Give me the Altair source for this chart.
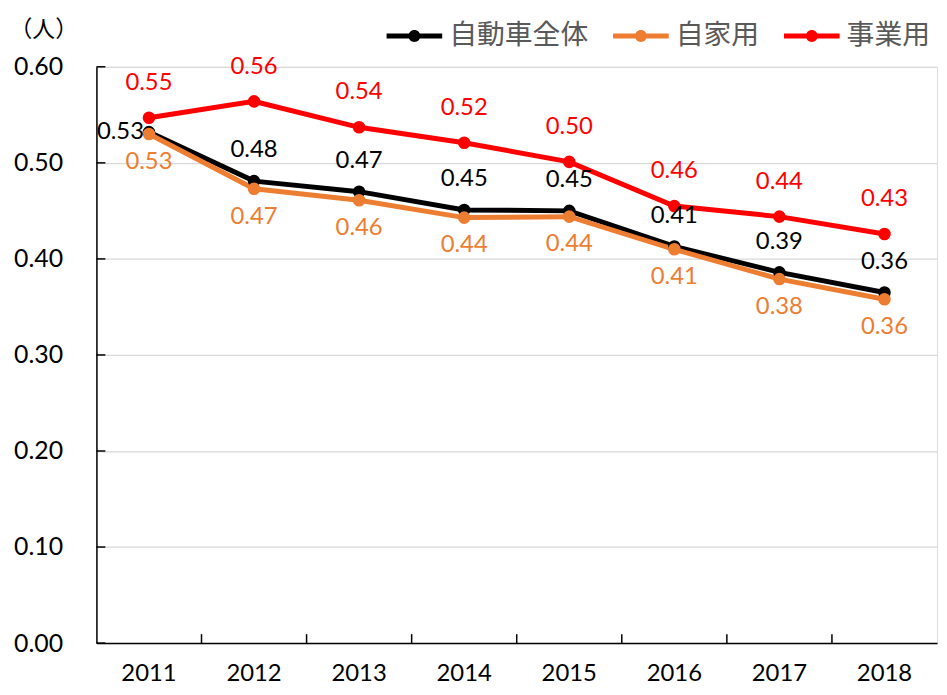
import altair as alt
import pandas as pd

years = ["2011", "2012", "2013", "2014", "2015", "2016", "2017", "2018"]
series_names = ["自動車全体", "自家用", "事業用"]
total = [0.532, 0.481, 0.470, 0.451, 0.450, 0.413, 0.386, 0.365]
private = [0.530, 0.473, 0.461, 0.443, 0.444, 0.410, 0.379, 0.358]
business = [0.547, 0.564, 0.537, 0.521, 0.501, 0.455, 0.444, 0.426]
colors = ["#000000", "#ED7D31", "#FF0000"]
y_ticks = [0.0, 0.1, 0.2, 0.3, 0.4, 0.5, 0.6]

rows = []
for name, vals in zip(series_names, [total, private, business]):
    for y, v in zip(years, vals):
        rows.append({"year": y, "series": name, "value": v, "label": f"{v:.2f}"})
df = pd.DataFrame(rows)

W, H = 846, 580
FONT = "Lato"
CJK = "Noto Sans CJK JP"
FS = 24

xenc = alt.X("year:N", sort=years, scale=alt.Scale(paddingInner=0, paddingOuter=0),
             axis=alt.Axis(title=None, labelFontSize=FS, labelFont=FONT, labelColor="#000000",
                           labelPadding=19, ticks=False, domainColor="#000000", domainWidth=1.5,
                           labelAngle=0, grid=False))
yenc = alt.Y("value:Q", scale=alt.Scale(domain=[0, 0.6], nice=False),
             axis=alt.Axis(values=y_ticks, format=".2f", title="（人）", titleAngle=0,
                           titleX=-88, titleY=-37, titleAlign="left", titleBaseline="middle",
                           titleFont=CJK, titleFontSize=23, titleFontWeight="normal",
                           titleColor="#000000",
                           labelFontSize=25, labelFont=FONT, labelColor="#000000",
                           labelPadding=34, ticks=False, domainColor="#000000", domainWidth=1.5,
                           gridColor="#d9d9d9", gridWidth=1.2))

legend_symbol = ("M-2,-0.18L2,-0.18L2,0.18L-2,0.18Z "
                 "M0.43,0A0.43,0.43 0 1,1 -0.43,0A0.43,0.43 0 1,1 0.43,0Z")

color = alt.Color("series:N", scale=alt.Scale(domain=series_names, range=colors),
                  sort=series_names,
                  legend=alt.Legend(title=None, orient="none", direction="horizontal",
                                    legendX=306, legendY=-45, padding=0,
                                    symbolType=legend_symbol,
                                    symbolSize=784, symbolStrokeWidth=0,
                                    labelFont=CJK, labelFontSize=28, labelColor="#595959",
                                    labelOffset=21, columnPadding=24))

base = alt.Chart(df)

lines = base.mark_line(strokeWidth=5).encode(x=xenc, y=yenc, color=color)
points = base.mark_point(filled=True, size=160, opacity=1).encode(x=xenc, y=yenc, color=color)

lab_red = base.transform_filter(alt.datum.series == "事業用").mark_text(
    fontSize=FS, font=FONT, dy=-35, color="#FF0000").encode(x=xenc, y=yenc, text="label:N")
lab_black = base.transform_filter((alt.datum.series == "自動車全体") & (alt.datum.year != "2011")).mark_text(
    fontSize=FS, font=FONT, dy=-31, color="#000000").encode(x=xenc, y=yenc, text="label:N")
lab_black0 = base.transform_filter((alt.datum.series == "自動車全体") & (alt.datum.year == "2011")).mark_text(
    fontSize=FS, font=FONT, dx=-5, align="right", color="#000000").encode(x=xenc, y=yenc, text="label:N")
lab_orange = base.transform_filter(alt.datum.series == "自家用").mark_text(
    fontSize=FS, font=FONT, dy=28, color="#ED7D31").encode(x=xenc, y=yenc, text="label:N")

tick_df = pd.DataFrame({"year": years[1:]})
xticks = alt.Chart(tick_df).mark_rule(color="#000000", strokeWidth=1.5).encode(
    x=alt.X("year:N", sort=years, bandPosition=0),
    y=alt.value(H - 9), y2=alt.value(H))

ytick_df = pd.DataFrame({"value": y_ticks})
yticks = alt.Chart(ytick_df).mark_rule(color="#000000", strokeWidth=1.5).encode(
    y=alt.Y("value:Q"), x=alt.value(0), x2=alt.value(9))

chart = alt.layer(lines, points, xticks, yticks, lab_red, lab_black, lab_black0, lab_orange).properties(
    width=W, height=H,
    autosize=alt.AutoSizeParams(type="none"),
    padding={"left": 89, "top": 57, "right": 2, "bottom": 42},
).configure_view(stroke=None).configure(background="white")

chart.save("out.html", embed_options={"renderer": "svg", "actions": False})
